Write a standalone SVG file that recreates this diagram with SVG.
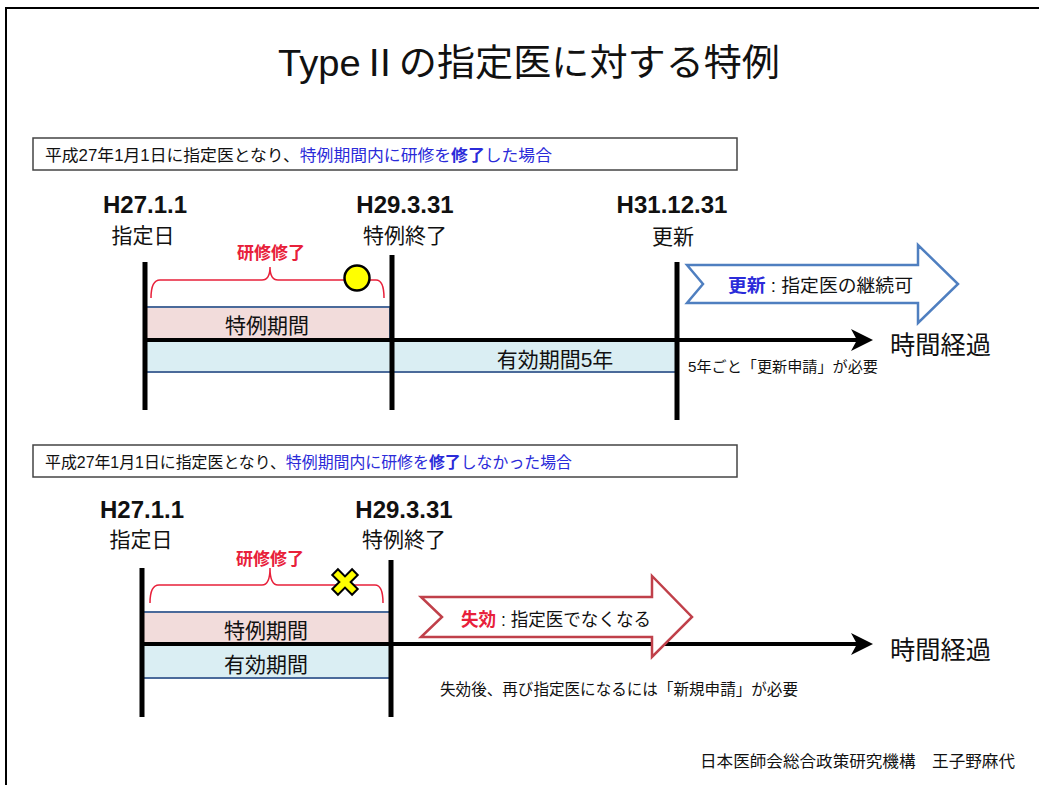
<svg xmlns="http://www.w3.org/2000/svg" width="1039" height="785" viewBox="0 0 1039 785">
<style>
.t{font-family:"Liberation Sans","Noto Sans CJK JP",sans-serif;fill:#111}
.b{font-weight:bold}
.date{font-size:24px;font-weight:bold;text-anchor:middle}
.lab{font-size:21px;text-anchor:middle}
.red{fill:#E8203A}
.blue{fill:#2B2BD9}
.box{fill:#fff;stroke:#444;stroke-width:1.5}
.vl{stroke:#000;stroke-width:5}
.tl{stroke:#000;stroke-width:4}
.brace{fill:none;stroke:#E8203A;stroke-width:1.5}
.pink{fill:#F2DCDB;stroke:#4A6A9A;stroke-width:2}
.lblue{fill:#DAEEF3;stroke:#4A6A9A;stroke-width:2}
</style>
<defs>
<path id="ah" d="M0,0 L-22,-11 L-16,0 L-22,11 Z" fill="#000"/>
</defs>
<rect width="1039" height="785" fill="#fff"/>
<path d="M6,785 L6,8 L1039,8" fill="none" stroke="#000" stroke-width="2"/>
<text class="t" x="529" y="76" font-size="37" text-anchor="middle" textLength="502" lengthAdjust="spacingAndGlyphs">TypeⅡの指定医に対する特例</text>

<g id="section1">
<g id="caption1">
<rect class="box" x="33" y="138" width="704" height="32"/>
<text class="t" x="45" y="161" font-size="16" textLength="507" lengthAdjust="spacingAndGlyphs">平成27年1月1日に指定医となり、<tspan class="blue">特例期間内に研修を</tspan><tspan class="blue b">修了</tspan><tspan class="blue">した場合</tspan></text>
</g>
<g id="periods1">
<rect class="pink" x="145" y="307" width="245" height="33"/>
<rect class="lblue" x="145" y="340" width="532" height="32"/>
<text class="t lab" x="267" y="333">特例期間</text>
<text class="t lab" x="555" y="367">有効期間5年</text>
</g>
<g id="connectors1">
<line class="tl" x1="145" y1="340" x2="860" y2="340"/>
<use href="#ah" x="873" y="340"/>
<line class="vl" x1="145" y1="262" x2="145" y2="410"/>
<line class="vl" x1="392" y1="255" x2="392" y2="410"/>
<line class="vl" x1="677" y1="262" x2="677" y2="420"/>
<path class="brace" d="M151,298 Q151,280 160,280 L262,280 Q270,280 270,267 Q270,280 278,280 L376,280 Q384,280 384,298"/>
</g>
<g id="d1a"><text class="t date" x="145" y="213">H27.1.1</text><text class="t lab" x="143" y="243">指定日</text></g>
<g id="d1b"><text class="t date" x="405" y="213">H29.3.31</text><text class="t lab" x="405" y="243">特例終了</text></g>
<g id="d1c"><text class="t date" x="672" y="213">H31.12.31</text><text class="t lab" x="673" y="244">更新</text></g>
<text class="t b red" x="271" y="259" font-size="17" text-anchor="middle">研修修了</text>
<circle cx="357" cy="278" r="12.5" fill="#FFFF00" stroke="#000" stroke-width="2.5"/>
<g id="renew">
<polygon points="687,265 918,265 918,245 958,284 918,323 918,303 687,303 703,284" fill="#fff" stroke="#4F7FC0" stroke-width="2.5"/>
<text class="t" x="728" y="292" font-size="18" textLength="185" lengthAdjust="spacingAndGlyphs"><tspan class="blue b">更新</tspan> : 指定医の継続可</text>
</g>
<text class="t" x="890" y="354" font-size="25" textLength="101" lengthAdjust="spacingAndGlyphs">時間経過</text>
<text class="t" x="688" y="372" font-size="14.5" textLength="190" lengthAdjust="spacingAndGlyphs">5年ごと「更新申請」が必要</text>
</g>

<g id="section2">
<g id="caption2">
<rect class="box" x="33" y="445" width="704" height="32"/>
<text class="t" x="45" y="468" font-size="16" textLength="527" lengthAdjust="spacingAndGlyphs">平成27年1月1日に指定医となり、<tspan class="blue">特例期間内に研修を</tspan><tspan class="blue b">修了</tspan><tspan class="blue">しなかった場合</tspan></text>
</g>
<g id="periods2">
<rect class="pink" x="142" y="612" width="248" height="32"/>
<rect class="lblue" x="142" y="644" width="248" height="34"/>
<text class="t lab" x="266" y="638">特例期間</text>
<text class="t lab" x="266" y="672">有効期間</text>
</g>
<g id="connectors2">
<line class="tl" x1="142" y1="644" x2="860" y2="644"/>
<use href="#ah" x="873" y="644"/>
<line class="vl" x1="142" y1="568" x2="142" y2="717"/>
<line class="vl" x1="391" y1="560" x2="391" y2="717"/>
<path class="brace" d="M150,603 Q150,585 159,585 L262,585 Q270,585 270,568 Q270,585 278,585 L375,585 Q383,585 383,603"/>
</g>
<g id="d2a"><text class="t date" x="142" y="518">H27.1.1</text><text class="t lab" x="141" y="547">指定日</text></g>
<g id="d2b"><text class="t date" x="404" y="518">H29.3.31</text><text class="t lab" x="404" y="547">特例終了</text></g>
<text class="t b red" x="270" y="565" font-size="17" text-anchor="middle">研修修了</text>
<polygon transform="translate(345,582) rotate(45)" points="4,-14 4,-4 14,-4 14,4 4,4 4,14 -4,14 -4,4 -14,4 -14,-4 -4,-4 -4,-14" fill="#FFFF00" stroke="#000" stroke-width="2" stroke-linejoin="miter"/>
<g id="lapse">
<polygon points="421,597 652,597 652,576 692,617 652,657 652,637 421,637 442,617" fill="#fff" stroke="#C0404A" stroke-width="2.5"/>
<text class="t" x="461" y="626" font-size="18" textLength="190" lengthAdjust="spacingAndGlyphs"><tspan class="red b">失効</tspan> : 指定医でなくなる</text>
</g>
<text class="t" x="890" y="659" font-size="25" textLength="101" lengthAdjust="spacingAndGlyphs">時間経過</text>
<text class="t" x="440" y="695" font-size="15.5" textLength="358" lengthAdjust="spacingAndGlyphs">失効後、再び指定医になるには「新規申請」が必要</text>
</g>

<text class="t" x="700" y="767" font-size="15.5" textLength="315" lengthAdjust="spacingAndGlyphs">日本医師会総合政策研究機構　王子野麻代</text>
</svg>
